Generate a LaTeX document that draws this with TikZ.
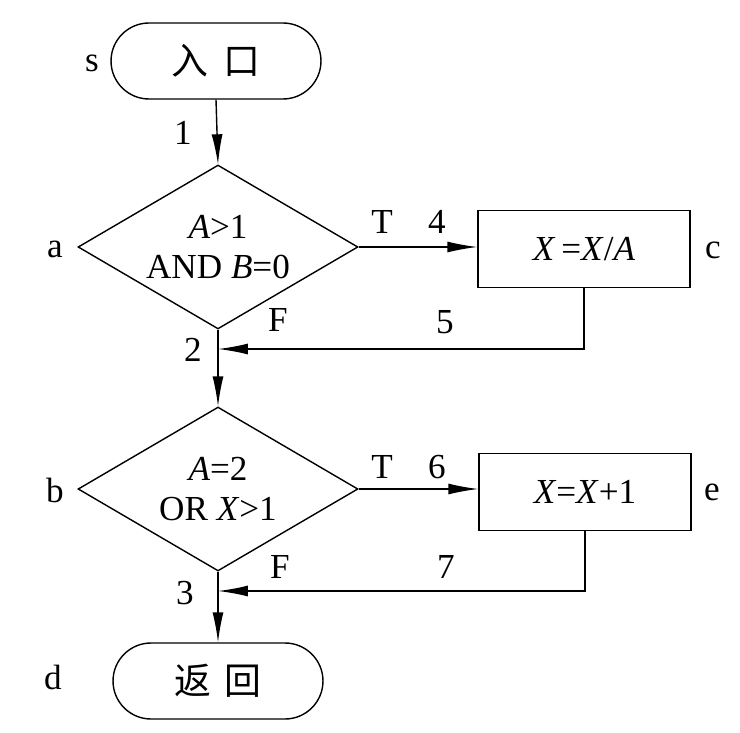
\documentclass[tikz,border=0pt]{standalone}
\usepackage{fontspec}
\setmainfont{Liberation Serif}
\newfontfamily\cjk{Noto Sans CJK SC}
\usetikzlibrary{shapes.geometric,arrows.meta}

\begin{document}
\begin{tikzpicture}[x=0.02cm, y=-0.02cm, line width=0.8pt,
  font=\fontsize{20}{23}\selectfont,
  term/.style={draw, rectangle, rounded corners=0.76cm, minimum width=4.2cm,
    minimum height=1.52cm, font=\cjk\fontsize{21}{23}\selectfont},
  cond/.style={draw, diamond, aspect=1.7, inner sep=0pt, minimum width=5.6cm,
    minimum height=3.28cm, align=center},
  proc/.style={draw, rectangle, minimum width=4.24cm, minimum height=1.54cm},
  flow/.style={-{Latex[length=6mm,width=2.2mm]}}]
  \useasboundingbox (0,0) rectangle (740,733);

  % blocks
  \node[term] (s) at (216,61) {入\hspace{0.4em}口};
  \node[cond] (a) at (218,247) {\textit{A}>1\\AND \textit{B}=0};
  \node[proc] (c) at (584,249) {\textit{X}\,=\textit{X}/\textit{A}};
  \node[cond] (b) at (218,489) {\textit{A}=2\\OR \textit{X}>1};
  \node[proc] (e) at (585,492) {\textit{X}=\textit{X}+1};
  \node[term] (d) at (218,681) {返\hspace{0.35em}回};

  \coordinate (m2) at (218,349);
  \coordinate (m3) at (218,591);

  % connectors
  \draw[flow] (s.south) -- (a.north);
  \draw[flow] (a.east) -- (a.east -| c.west);
  \draw[flow] (c.south) |- (m2);
  \draw[flow] (a.south) -- (b.north);
  \draw[flow] (b.east) -- (b.east -| e.west);
  \draw[flow] (e.south) |- (m3);
  \draw[flow] (b.south) -- (d.north);

  % labels
  \foreach \n/\x/\y/\t in {ls/92/63/s, la/55/249/a, lb/55/490/b, ld/53/677/d,
      lc/713/250/c, le/712/492/e, t1/382/222/T, t2/382/467/T,
      f1/278/320/F, f2/280/567/F, n1/183/133/1, n2/193/350/2, n3/185/593/3,
      n4/437/222/4, n5/445/322/5, n6/437/467/6, n7/446/567/7}
    \node (\n) at (\x,\y) {\t};
\end{tikzpicture}
\end{document}
